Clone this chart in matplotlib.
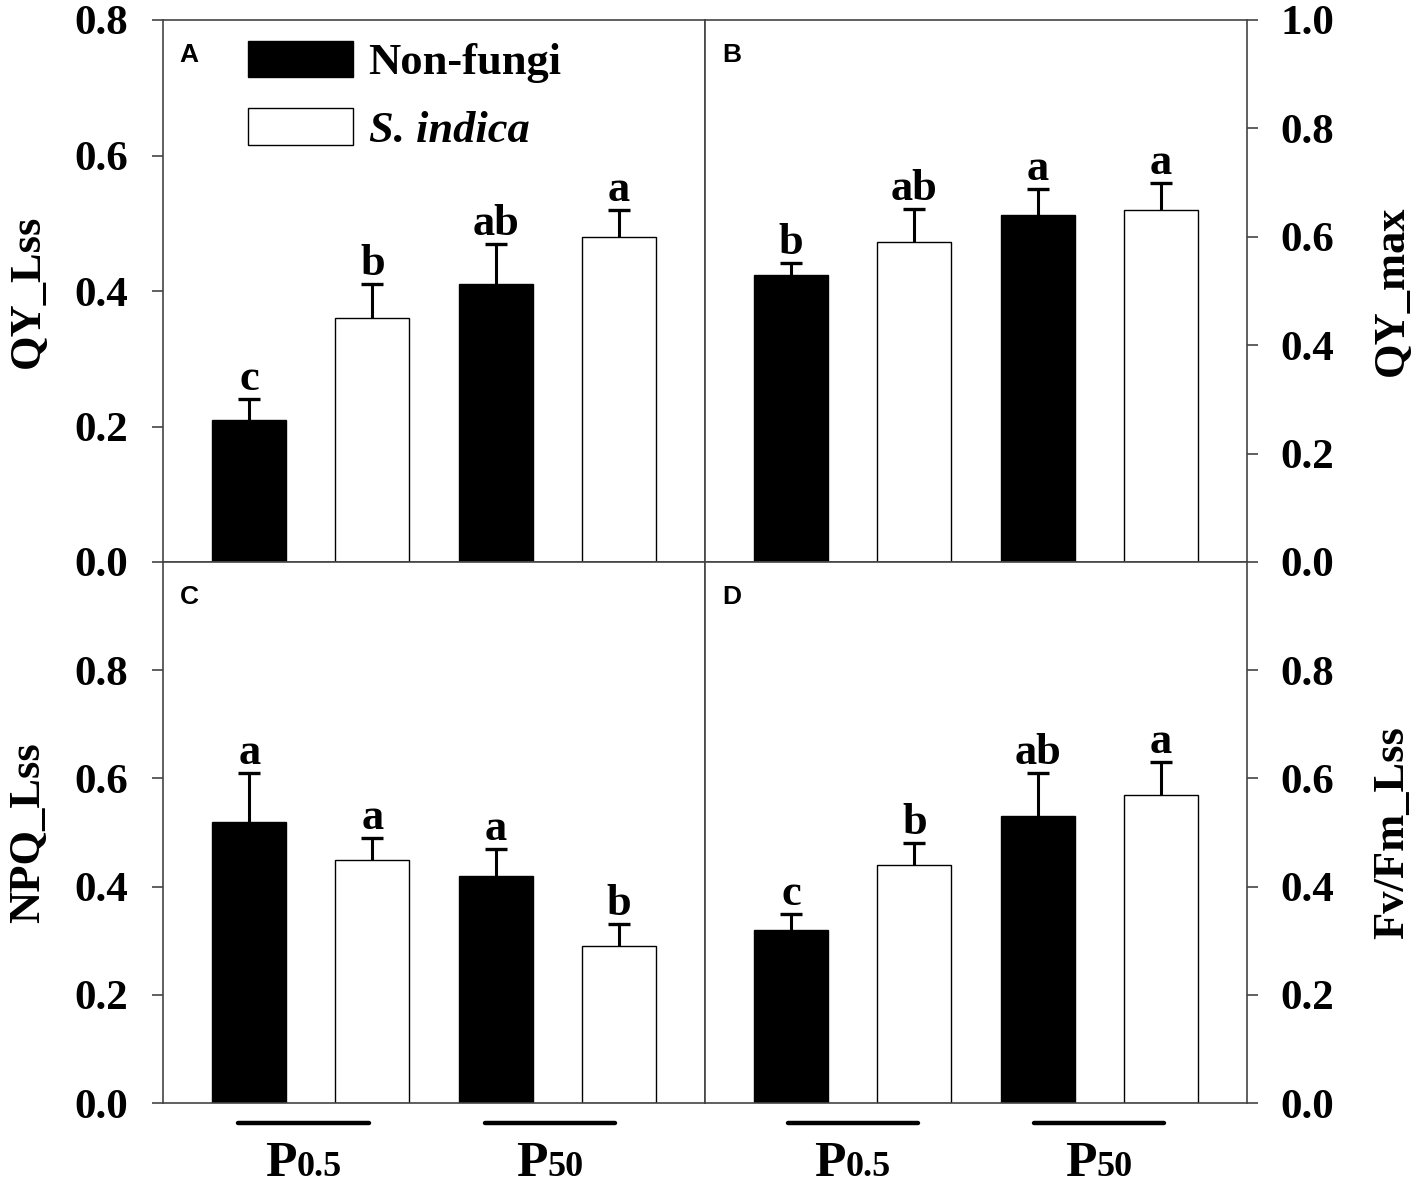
import matplotlib
matplotlib.use("Agg")
import matplotlib.pyplot as plt  # noqa: E402
from matplotlib.offsetbox import TextArea, HPacker, AnnotationBbox  # noqa: E402
import matplotlib.transforms as mtransforms  # noqa: E402

SERIF = "Liberation Serif"
SANS = "Liberation Sans"

# data
treatments = ["Non-fungi", "S. indica", "Non-fungi", "S. indica"]
groups = [("P", "0.5"), ("P", "50")]

qy_lss = [0.21, 0.36, 0.41, 0.48]
qy_lss_top = [0.24, 0.41, 0.47, 0.52]
qy_lss_sig = ["c", "b", "ab", "a"]

qy_max = [0.53, 0.59, 0.64, 0.65]
qy_max_top = [0.552, 0.651, 0.689, 0.70]
qy_max_sig = ["b", "ab", "a", "a"]

npq_lss = [0.52, 0.45, 0.42, 0.29]
npq_lss_top = [0.61, 0.49, 0.47, 0.33]
npq_lss_sig = ["a", "a", "a", "b"]

fvfm_lss = [0.32, 0.44, 0.53, 0.57]
fvfm_lss_top = [0.35, 0.48, 0.61, 0.63]
fvfm_lss_sig = ["c", "b", "ab", "a"]

panels = [
    ("A", "QY_Lss", qy_lss, qy_lss_top, qy_lss_sig, 0.8, [0, 0.2, 0.4, 0.6, 0.8], "left"),
    ("B", "QY_max", qy_max, qy_max_top, qy_max_sig, 1.0, [0, 0.2, 0.4, 0.6, 0.8, 1.0], "right"),
    ("C", "NPQ_Lss", npq_lss, npq_lss_top, npq_lss_sig, 1.0, [0, 0.2, 0.4, 0.6, 0.8], "left"),
    ("D", "Fv/Fm_Lss", fvfm_lss, fvfm_lss_top, fvfm_lss_sig, 1.0, [0, 0.2, 0.4, 0.6, 0.8], "right"),
]

W, H = 1417, 1187
fig = plt.figure(figsize=(W / 100, H / 100), dpi=100)

x0, xm, x1 = 163, 705, 1247
y0, ym, y1 = 20, 562, 1103
boxes = {
    "A": (x0, ym, xm - x0, ym - y0),
    "B": (xm, ym, x1 - xm, ym - y0),
    "C": (x0, y1, xm - x0, y1 - ym),
    "D": (xm, y1, x1 - xm, y1 - ym),
}

xpos = list(range(len(treatments)))
colors = ["black", "white", "black", "white"]

for letter, ylab, vals, tops, sig, ymax, yticks, side in panels:
    left, bottom, w, h = boxes[letter]
    ax = fig.add_axes([left / W, (H - bottom) / H, w / W, h / H])

    ax.bar(xpos, vals, width=0.6, color=colors, edgecolor="black", linewidth=1.0, zorder=2)
    upper = [t - v for t, v in zip(tops, vals)]
    eb = ax.errorbar(xpos, vals, yerr=[[0] * len(vals), upper], fmt="none",
                     ecolor="black", elinewidth=2.2, capsize=8, capthick=2.4, zorder=3)
    for cap in eb[1]:
        if list(cap.get_ydata()) == list(vals):
            cap.set_visible(False)

    for xi, t, s in zip(xpos, tops, sig):
        ax.annotate(s, xy=(xi, t), xytext=(0, 6.5), textcoords="offset points",
                    ha="center", va="baseline", fontsize=32, fontweight="bold",
                    family=SERIF)

    ax.set_xlim(-0.7, 3.7)
    ax.set_ylim(0, ymax)
    ax.set_xticks([])
    ax.set_yticks(yticks)
    ax.set_yticklabels([f"{v:.1f}" for v in yticks], fontsize=31,
                       fontweight="bold", family=SERIF)
    for sp in ax.spines.values():
        sp.set_color("#444444")
        sp.set_linewidth(1.2)

    if side == "right":
        ax.yaxis.tick_right()
        ax.tick_params(axis="y", direction="out", length=8, width=1.2,
                       color="#444444", pad=16, left=False, right=True)
        ax.yaxis.set_label_position("right")
        ax.set_ylabel(ylab, fontsize=32, fontweight="bold", family=SERIF,
                      rotation=90)
        ax.yaxis.set_label_coords(1.231, 0.5)
    else:
        ax.tick_params(axis="y", direction="out", length=8, width=1.2,
                       color="#444444", pad=17)
        ax.set_ylabel(ylab, fontsize=32, fontweight="bold", family=SERIF)
        ax.yaxis.set_label_coords(-0.212, 0.5)

    ax.text(0.031, 0.957, letter, transform=ax.transAxes, ha="left", va="top",
            fontsize=19, fontweight="bold", family=SANS)

    if letter == "A":
        leg = ax.legend(ax.patches[:2], treatments[:2], loc="upper left",
                        bbox_to_anchor=(0.157, 0.962), frameon=False,
                        prop={"family": SERIF, "weight": "bold", "size": 32},
                        handlelength=2.35, handleheight=0.9, handletextpad=0.36,
                        labelspacing=0.56, borderpad=0, borderaxespad=0)
        leg.get_texts()[1].set_fontstyle("italic")

    if letter in ("C", "D"):
        shift = -0.06 if letter == "C" else 0.0
        trans = mtransforms.blended_transform_factory(ax.transData, ax.transAxes)
        for gi, (big, small) in enumerate(groups):
            xc = (xpos[2 * gi] + xpos[2 * gi + 1]) / 2 + shift
            ax.plot([xc - 0.53, xc + 0.53], [-0.037, -0.037], transform=trans,
                    color="black", lw=3.2, solid_capstyle="round", clip_on=False)
            pack = HPacker(children=[
                TextArea(big, textprops=dict(fontsize=37, fontweight="bold", family=SERIF)),
                TextArea(small, textprops=dict(fontsize=26, fontweight="bold", family=SERIF)),
            ], align="baseline", pad=0, sep=0)
            ab = AnnotationBbox(pack, (xc, -0.112), xycoords=trans, frameon=False,
                                box_alignment=(0.5, 0.5), annotation_clip=False)
            ax.add_artist(ab)

fig.savefig("out.png", dpi=100)
